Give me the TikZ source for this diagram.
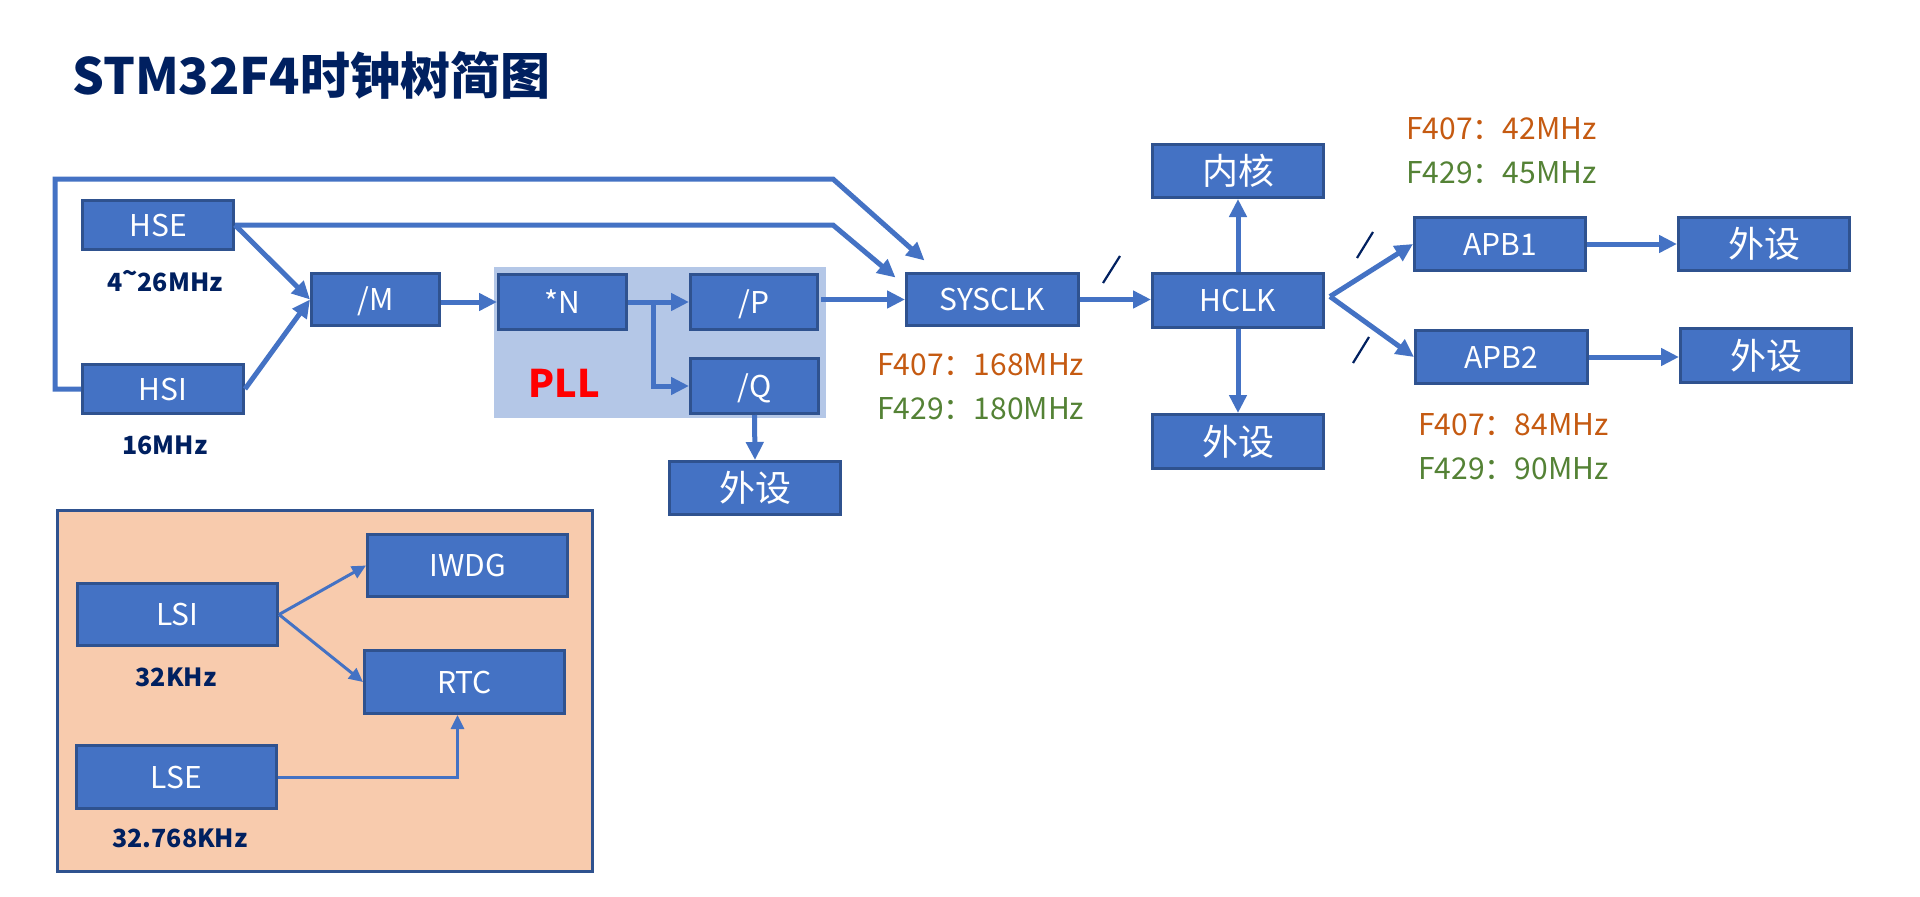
\documentclass[tikz,border=0pt]{standalone}
\usepackage{fontspec}
\setmainfont{Noto Sans CJK SC}
\usetikzlibrary{arrows.meta}
\definecolor{boxfill}{HTML}{4472C4}
\definecolor{boxdraw}{HTML}{2F528F}
\definecolor{pllbg}{HTML}{B4C7E7}
\definecolor{lowbg}{HTML}{F8CBAD}
\definecolor{navy}{HTML}{002060}
\definecolor{orangetxt}{HTML}{C55A11}
\definecolor{greentxt}{HTML}{548235}
\tikzset{
  blk/.style={draw=boxdraw, fill=boxfill, line width=3pt, text=white, inner sep=0pt,
    font=\fontsize{30}{36}\selectfont, text height=22pt, text depth=0pt},
  cjkblk/.style={draw=boxdraw, fill=boxfill, line width=3pt, text=white, inner sep=0pt,
    font=\fontsize{36}{40}\selectfont},
  arr/.style={draw=boxfill, line width=5pt, -{Triangle[length=18pt,width=17pt]}},
  thinarr/.style={draw=boxfill, line width=3pt, -{Triangle[length=14pt,width=13pt]}},
  freqlbl/.style={text=navy, font=\bfseries\fontsize{25}{30}\selectfont, inner sep=0pt},
  orangelbl/.style={text=orangetxt, font=\fontsize{30}{36}\selectfont, inner sep=0pt, anchor=west},
  greenlbl/.style={text=greentxt, font=\fontsize{30}{36}\selectfont, inner sep=0pt, anchor=west},
  slashmark/.style={draw=navy, line width=2.2pt},
}
\begin{document}
\begin{tikzpicture}[x=1pt,y=-1pt]
\useasboundingbox[fill=white] (0,0) rectangle (1920,897);

% title
\node[anchor=west, text=navy, inner sep=0pt, font=\bfseries\fontsize{50}{56}\selectfont] (title) at (72,75) {STM32F4时钟树简图};

% backgrounds
\fill[pllbg] (494,267) rectangle (826,418);
\draw[draw=boxdraw, fill=lowbg, line width=3pt] (57,510) rectangle (592,871);

% main boxes
\node[blk, minimum width=151pt, minimum height=49pt] (hse) at (158,225) {HSE};
\node[blk, minimum width=161pt, minimum height=49pt] (hsi) at (163,389) {HSI};
\node[blk, minimum width=128pt, minimum height=52pt] (m) at (375.5,299.5) {/M};
\node[blk, minimum width=128pt, minimum height=55pt] (n) at (562.5,302) {*N};
\node[blk, minimum width=127pt, minimum height=55pt] (p) at (754,302) {/P};
\node[blk, minimum width=128pt, minimum height=55pt] (q) at (754.5,386) {/Q};
\node[cjkblk, minimum width=171pt, minimum height=53pt] (wq) at (755,488) {外设};
\node[blk, minimum width=172pt, minimum height=52pt] (sys) at (992.5,299.5) {SYSCLK};
\node[blk, minimum width=171pt, minimum height=54pt] (hclk) at (1238,300.5) {HCLK};
\node[cjkblk, minimum width=171pt, minimum height=53pt] (core) at (1238,171) {内核};
\node[cjkblk, minimum width=171pt, minimum height=54pt] (wh) at (1238,441.5) {外设};
\node[blk, minimum width=171pt, minimum height=53pt] (apb1) at (1500,244) {APB1};
\node[cjkblk, minimum width=171pt, minimum height=53pt] (w1) at (1764,244) {外设};
\node[blk, minimum width=172pt, minimum height=53pt] (apb2) at (1501.5,357) {APB2};
\node[cjkblk, minimum width=171pt, minimum height=54pt] (w2) at (1766,355.5) {外设};

% low-speed boxes
\node[blk, minimum width=200pt, minimum height=62pt] (lsi) at (177.5,614.5) {LSI};
\node[blk, minimum width=200pt, minimum height=62pt] (iwdg) at (467.5,565.5) {IWDG};
\node[blk, minimum width=200pt, minimum height=63pt] (rtc) at (464.5,682) {RTC};
\node[blk, minimum width=200pt, minimum height=63pt] (lse) at (176.5,777) {LSE};

% labels
\node[freqlbl] (hsef) at (165,281) {4\raisebox{0.35em}{\textasciitilde}26MHz};
\node[freqlbl] (hsif) at (165,445) {16MHz};
\node[freqlbl] (lsif) at (176,677) {32KHz};
\node[freqlbl] (lsef) at (180,838) {32.768KHz};
\node[text=red, inner sep=0pt, font=\bfseries\fontsize{38}{44}\selectfont] (pll) at (564,383) {PLL};

\node[orangelbl] (f1) at (877,365) {F407：168MHz};
\node[greenlbl] (g1) at (877,409) {F429：180MHz};
\node[orangelbl] (f2) at (1406,129) {F407：42MHz};
\node[greenlbl] (g2) at (1406,173) {F429：45MHz};
\node[orangelbl] (f3) at (1418,425) {F407：84MHz};
\node[greenlbl] (g3) at (1418,469) {F429：90MHz};

% connectors
\draw[arr] (hse.east) -- (m.west);
\draw[arr] (hsi.east) -- (m.west);
\draw[arr] (hse.east) -- (833,225) -- ([xshift=-9.5pt,yshift=-5.5pt]sys.north west);
\draw[arr] (hsi.west) -- ++(-26,0) |- (833,179) -- ([xshift=19.5pt,yshift=11.5pt]sys.north west);
\draw[arr] (m.east |- n.west) -- (n.west);
\draw[arr] (n.east) -- (p.west);
\draw[arr] (n.east) -- ++(25,0) |- (q.west);
\draw[arr] ([xshift=2pt]p.east |- sys.west) -- (sys.west);
\draw[arr] (q.south) -- (wq.north);
\draw[arr] (sys.east) -- (sys.east -| hclk.west);
\draw[arr] (hclk.north) -- (core.south);
\draw[arr] (hclk.south) -- (wh.north);
\draw[arr] ([xshift=5pt,yshift=4pt]hclk.east) -- (apb1.west);
\draw[arr] ([xshift=5pt,yshift=4pt]hclk.east) -- (apb2.west);
\draw[arr] (apb1.east) -- (w1.west);
\draw[arr] (apb2.east) -- (apb2.east -| w2.west);
\draw[thinarr] (lsi.east) -- (iwdg.west);
\draw[thinarr] (lsi.east) -- (rtc.west);
\draw[thinarr] (lse.east) -| ([xshift=-7pt]rtc.south);

% divider marks
\draw[slashmark] (1103,283) -- (1120,256);
\draw[slashmark] (1357,258) -- (1373,232);
\draw[slashmark] (1353,363) -- (1369,337);
\end{tikzpicture}
\end{document}
